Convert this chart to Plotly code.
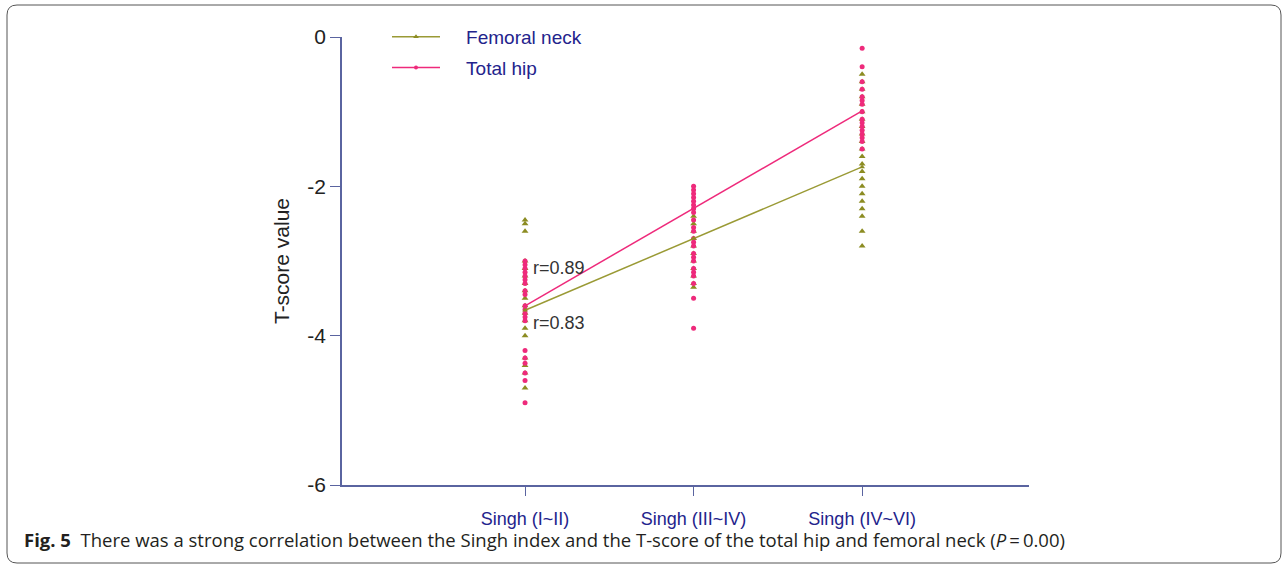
import plotly.graph_objects as go

categories = ["Singh (I~II)", "Singh (III~IV)", "Singh (IV~VI)"]

# Individual T-scores
fn_g1 = [-2.45, -2.5, -2.6, -3.0, -3.1, -3.2, -3.3, -3.4, -3.5, -3.6, -3.7, -3.8, -3.9, -4.0, -4.3, -4.4, -4.5, -4.7]
fn_g2 = [-2.4, -2.5, -2.6, -2.7, -2.8, -2.9, -3.0, -3.1, -3.2, -3.3, -3.35]
fn_g3 = [-0.5, -0.6, -0.7, -0.8, -0.9, -1.0, -1.1, -1.2, -1.3, -1.4, -1.5, -1.6, -1.7, -1.8, -1.9,
         -2.0, -2.1, -2.2, -2.3, -2.4, -2.6, -2.8]

th_g1 = [-3.0, -3.05, -3.1, -3.15, -3.2, -3.25, -3.3, -3.4, -3.45, -3.6, -3.65, -3.7, -3.75, -3.8,
         -4.2, -4.3, -4.37, -4.5, -4.6, -4.9]
th_g2 = [-2.0, -2.05, -2.1, -2.15, -2.2, -2.25, -2.3, -2.35, -2.45, -2.55, -2.6, -2.7, -2.75, -2.8,
         -2.9, -2.95, -3.0, -3.1, -3.15, -3.2, -3.3, -3.5, -3.9]
th_g3 = [-0.15, -0.4, -0.6, -0.7, -0.8, -0.85, -0.9, -1.0, -1.1, -1.15, -1.2, -1.25, -1.3, -1.35, -1.4, -1.5]

# Group means (lines)
fn_mean = [-3.66, -2.70, -1.74]
th_mean = [-3.60, -2.29, -0.99]

r_labels = ["r=0.89", "r=0.83"]
r_y = [-3.09, -3.83]

yticks = [0, -2, -4, -6]

caption_bold = "Fig. 5"
caption_text = "There was a strong correlation between the Singh index and the T-score of the total hip and femoral neck (<i>P</i>\u2009=\u20090.00)"

FN_COLOR = "#8c8c22"
TH_COLOR = "#ee2a7b"
AXIS_COLOR = "#5a64a0"
BLUE_TXT = "#23238c"
PAD = "\u00a0" * 4

fig = go.Figure()

def xs(i, vals):
    return [i] * len(vals)

# scatter points: femoral neck (triangles) first, total hip (circles) on top
for i, g in enumerate([fn_g1, fn_g2, fn_g3]):
    fig.add_trace(go.Scatter(x=xs(i, g), y=g, mode="markers", showlegend=False, hoverinfo="skip",
                             marker=dict(symbol="triangle-up", size=6, color=FN_COLOR)))
for i, g in enumerate([th_g1, th_g2, th_g3]):
    fig.add_trace(go.Scatter(x=xs(i, g), y=g, mode="markers", showlegend=False, hoverinfo="skip",
                             marker=dict(symbol="circle", size=5, color=TH_COLOR)))

# mean lines
fig.add_trace(go.Scatter(x=list(range(3)), y=fn_mean, mode="lines+markers", name=PAD + "Femoral neck",
                         legendgroup="a",
                         line=dict(color="#9a9a35", width=1.5),
                         marker=dict(symbol="triangle-up", size=5, color=FN_COLOR)))
fig.add_trace(go.Scatter(x=list(range(3)), y=th_mean, mode="lines+markers", name=PAD + "Total hip",
                         legendgroup="b",
                         line=dict(color=TH_COLOR, width=1.5),
                         marker=dict(symbol="circle", size=4, color=TH_COLOR)))

for t, yv in zip(r_labels, r_y):
    fig.add_annotation(x=0.035, y=yv, text=t, showarrow=False, xanchor="left", yanchor="middle",
                       font=dict(family="Liberation Sans, Arial", size=18, color="#333333"))

L, R, T, B = 342, 1029, 37, 485
W, H = 1287, 567

def px(xp):
    return (xp - L) / (R - L)

def py(yp):
    return (B - yp) / (B - T)

# caption
fig.add_annotation(xref="paper", yref="paper", x=px(22), y=py(539), xanchor="left", yanchor="middle",
                   showarrow=False,
                   text=f"<b>{caption_bold}</b>  {caption_text}",
                   font=dict(family="Open Sans", size=18.5, color="#231f20"))

# rounded border
x0, x1, y0, y1, r = 7, 1281, 5, 563, 10
path = (f"M {px(x0+r)},{py(y0)} L {px(x1-r)},{py(y0)} Q {px(x1)},{py(y0)} {px(x1)},{py(y0+r)} "
        f"L {px(x1)},{py(y1-r)} Q {px(x1)},{py(y1)} {px(x1-r)},{py(y1)} "
        f"L {px(x0+r)},{py(y1)} Q {px(x0)},{py(y1)} {px(x0)},{py(y1-r)} "
        f"L {px(x0)},{py(y0+r)} Q {px(x0)},{py(y0)} {px(x0+r)},{py(y0)} Z")
fig.add_shape(type="path", xref="paper", yref="paper", path=path,
              line=dict(color="#555555", width=1))

fig.update_layout(
    width=W, height=H,
    margin=dict(l=L, r=W - R, t=T, b=H - B),
    paper_bgcolor="white", plot_bgcolor="white",
    showlegend=True,
    legend=dict(x=px(387), y=py(18), xanchor="left", yanchor="top",
                bgcolor="rgba(0,0,0,0)", tracegroupgap=3, itemwidth=48,
                font=dict(family="Liberation Sans, Arial", size=19, color=BLUE_TXT)),
    xaxis=dict(range=[-1.086, 2.99], tickvals=[0, 1, 2], ticktext=categories,
               showline=True, linecolor=AXIS_COLOR, linewidth=1.5, showgrid=False, zeroline=False,
               ticks="outside", ticklen=9, tickcolor=AXIS_COLOR, tickwidth=1.2,
               ticklabelstandoff=8,
               tickfont=dict(family="Liberation Sans, Arial", size=18, color=BLUE_TXT)),
    yaxis=dict(range=[-6, 0], tickvals=yticks, ticktext=[str(v) for v in yticks],
               showline=True, linecolor=AXIS_COLOR, linewidth=1.5, showgrid=False, zeroline=False,
               ticks="outside", ticklen=10, tickcolor=AXIS_COLOR, tickwidth=1.2,
               tickfont=dict(family="Liberation Sans, Arial", size=21, color="#222222"),
               title=dict(text="T-score value", standoff=12,
                          font=dict(family="Liberation Sans, Arial", size=21, color="#222222"))),
)

fig.write_html("out.html")
